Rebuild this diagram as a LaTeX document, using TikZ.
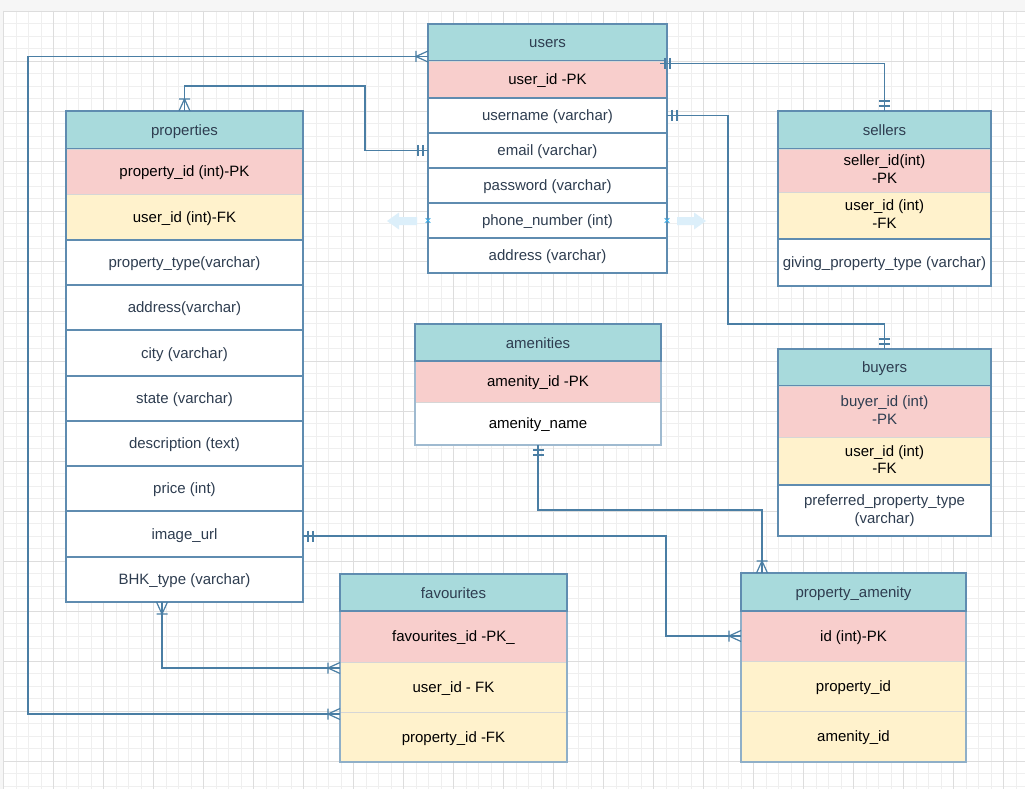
\documentclass[tikz,border=0pt]{standalone}
\usepackage{fontspec}
\setmainfont{Liberation Sans}
\usetikzlibrary{calc}

\definecolor{hdr}{HTML}{A8DADC}
\definecolor{pkc}{HTML}{F8CECC}
\definecolor{fkc}{HTML}{FFF2CC}
\definecolor{framec}{HTML}{5F8CB0}
\definecolor{sepc}{HTML}{D6D6D6}
\definecolor{linkc}{HTML}{4A7EA4}
\definecolor{ink}{HTML}{2E3D50}
\definecolor{gridmaj}{HTML}{DDDDDD}
\definecolor{gridmin}{HTML}{EFEFEF}
\definecolor{pagec}{HTML}{F6F6F6}
\definecolor{hint}{HTML}{DCEFFA}
\definecolor{hintx}{HTML}{3AABE6}

% fixed line box (13.5pt above, 2.5pt below the baseline) so labels sit alike
\newcommand{\cellstrut}{\rule[-2.5pt]{0pt}{16pt}}

\tikzset{
  cellbase/.style={anchor=north west, inner sep=0pt, outer sep=0pt, align=center,
    font=\fontsize{15}{17.5}\selectfont, text=ink,
    execute at begin node=\cellstrut, execute at end node=\cellstrut},
  hcell/.style={cellbase, fill=hdr, draw=framec, line width=1.3pt},
  pcell/.style={cellbase, fill=pkc, draw=sepc, line width=0.6pt, text=black},
  fcell/.style={cellbase, fill=fkc, draw=sepc, line width=0.6pt, text=black},
  wcell/.style={cellbase, fill=white, draw=framec, line width=1.2pt},
  tframe/.style={draw=framec, line width=1.3pt},
  conn/.style={draw=linkc, line width=1.2pt},
  mone/.pic={\draw[conn] (5,-5.5) -- (5,5.5) (10,-5.5) -- (10,5.5);},
  omany/.pic={\draw[conn] (0,-5.5) -- (12,0) -- (0,5.5) (12,-5.5) -- (12,5.5);}
}

% one table cell: name, x, y (top left), width, height, style, text
\newcommand{\tcell}[7]{\node[#6, minimum width=#4pt, minimum height=#5pt] (#1) at (#2,#3) {#7};}

\begin{document}
\begin{tikzpicture}[x=1pt, y=-1pt]
\useasboundingbox (0,0) rectangle (1025,789);

% page and grid
\fill[pagec] (0,0) rectangle (1025,789);
\fill[white] (3.3,11) rectangle (1025,789);
\foreach \i in {0,...,81} \draw[gridmin, line width=0.6pt] ({3.3+12.5*\i},11) -- ({3.3+12.5*\i},789);
\foreach \j in {0,...,62} \draw[gridmin, line width=0.6pt] (3.3,{11+12.5*\j}) -- (1025,{11+12.5*\j});
\foreach \i in {0,...,20} \draw[gridmaj, line width=0.8pt] ({3.3+50*\i},11) -- ({3.3+50*\i},789);
\foreach \j in {0,...,15} \draw[gridmaj, line width=0.8pt] (3.3,{11+50*\j}) -- (1025,{11+50*\j});

% users
\tcell{users-h}{428}{24}{239}{37}{hcell}{users}
\tcell{users-1}{428}{61}{239}{37}{pcell}{user\_id -PK}
\tcell{users-2}{428}{98}{239}{35}{wcell}{username (varchar)}
\tcell{users-3}{428}{133}{239}{35}{wcell}{email (varchar)}
\tcell{users-4}{428}{168}{239}{35}{wcell}{password (varchar)}
\tcell{users-5}{428}{203}{239}{35}{wcell}{phone\_number (int)}
\tcell{users-6}{428}{238}{239}{35}{wcell}{address (varchar)}
\draw[tframe] (users-h.north west) rectangle (users-6.south east);

% properties
\tcell{prop-h}{66}{111}{237}{38}{hcell}{properties}
\tcell{prop-1}{66}{149}{237}{45}{pcell}{property\_id (int)-PK}
\tcell{prop-2}{66}{194}{237}{46}{fcell}{user\_id (int)-FK}
\tcell{prop-3}{66}{240}{237}{45}{wcell}{property\_type(varchar)}
\tcell{prop-4}{66}{285}{237}{45}{wcell}{address(varchar)}
\tcell{prop-5}{66}{330}{237}{46}{wcell}{city (varchar)}
\tcell{prop-6}{66}{376}{237}{45}{wcell}{state (varchar)}
\tcell{prop-7}{66}{421}{237}{45}{wcell}{description (text)}
\tcell{prop-8}{66}{466}{237}{45}{wcell}{price (int)}
\tcell{prop-9}{66}{511}{237}{46}{wcell}{image\_url}
\tcell{prop-10}{66}{557}{237}{45}{wcell}{BHK\_type (varchar)}
\draw[tframe] (prop-h.north west) rectangle (prop-10.south east);

% sellers
\tcell{sell-h}{778}{111}{213}{38}{hcell}{sellers}
\tcell{sell-1}{778}{149}{213}{43}{pcell}{seller\_id(int)\\-PK}
\tcell{sell-2}{778}{192}{213}{47}{fcell}{user\_id (int)\\-FK}
\tcell{sell-3}{778}{239}{213}{47}{wcell}{giving\_property\_type (varchar)}
\draw[tframe] (sell-h.north west) rectangle (sell-3.south east);

% buyers
\tcell{buy-h}{778}{349}{213}{37}{hcell}{buyers}
\tcell{buy-1}{778}{386}{213}{51}{pcell, text=ink}{buyer\_id (int)\\-PK}
\tcell{buy-2}{778}{437}{213}{48}{fcell}{user\_id (int)\\-FK}
\tcell{buy-3}{778}{485}{213}{51}{wcell}{preferred\_property\_type\\(varchar)}
\draw[tframe] (buy-h.north west) rectangle (buy-3.south east);

% amenities
\tcell{am-h}{415}{324}{246}{37}{hcell}{amenities}
\tcell{am-1}{415}{361}{246}{41}{pcell}{amenity\_id -PK}
\tcell{am-2}{415}{402}{246}{43}{wcell, draw=sepc, line width=0.6pt, text=black}{amenity\_name}
\draw[tframe, draw=framec!60] (am-1.north west) -- (am-2.south west) -- (am-2.south east) -- (am-1.north east);
\draw[tframe] (am-h.north west) rectangle (am-h.south east);

% favourites
\tcell{fav-h}{340}{574}{227}{37}{hcell}{favourites}
\tcell{fav-1}{340}{611}{227}{51}{pcell}{favourites\_id -PK\_}
\tcell{fav-2}{340}{662}{227}{50}{fcell}{user\_id - FK}
\tcell{fav-3}{340}{712}{227}{50}{fcell}{property\_id -FK}
\draw[tframe, draw=framec!70] (fav-1.north west) -- (fav-3.south west) -- (fav-3.south east) -- (fav-1.north east);
\draw[tframe] (fav-h.north west) rectangle (fav-h.south east);

% property_amenity
\tcell{pa-h}{741}{573}{225}{38}{hcell}{property\_amenity}
\tcell{pa-1}{741}{611}{225}{50}{pcell}{id (int)-PK}
\tcell{pa-2}{741}{661}{225}{50}{fcell}{property\_id}
\tcell{pa-3}{741}{711}{225}{51}{fcell}{amenity\_id}
\draw[tframe, draw=framec!70] (pa-1.north west) -- (pa-3.south west) -- (pa-3.south east) -- (pa-1.north east);
\draw[tframe] (pa-h.north west) rectangle (pa-h.south east);

% connector end points
\coordinate (c1a) at ($(users-h.south west)+(0,-4.5)$);
\coordinate (c1b) at ($(fav-3.north west)+(0,2)$);
\coordinate (c3a) at ($(users-1.north east)+(-7,2.3)$);
\coordinate (c5a) at ($(prop-9.east)+(0,2)$);
\coordinate (c6b) at ($(pa-h.north west)+(21,0)$);
\coordinate (c7a) at ($(prop-10.south west)+(96,0)$);
\coordinate (c7b) at ($(fav-2.north west)+(0,6)$);

% relationships
\draw[conn] (c1a) -| (28,714) -- (c1b);
\pic[rotate=180] at (c1a) {omany};
\pic[rotate=180] at (c1b) {omany};

\draw[conn] (users-3.west) -| (365,86) -| (prop-h.north);
\pic[rotate=180] at (users-3.west) {mone};
\pic[rotate=90] at (prop-h.north) {omany};

\draw[conn] (c3a) -| (sell-h.north);
\pic at (c3a) {mone};
\pic[rotate=90] at (sell-h.north) {mone};

\draw[conn] (users-2.east) -| (728,324) -| (buy-h.north);
\pic at (users-2.east) {mone};
\pic[rotate=90] at (buy-h.north) {mone};

\draw[conn] (c5a) -| (666,636) |- (pa-1.west);
\pic at (c5a) {mone};
\pic[rotate=180] at (pa-1.west) {omany};

\draw[conn] (am-2.south) |- (700,510) -| (c6b);
\pic[rotate=-90] at (am-2.south) {mone};
\pic[rotate=90] at (c6b) {omany};

\draw[conn] (c7a) |- (c7b);
\pic[rotate=-90] at (c7a) {omany};
\pic[rotate=180] at (c7b) {omany};

% hover hints beside phone_number
\fill[hint] (387,221) -- (399,212.5) -- (399,217) -- (417,217) -- (417,225) -- (399,225) -- (399,229.5) -- cycle;
\fill[hint] (706,221) -- (694,212.5) -- (694,217) -- (677,217) -- (677,225) -- (694,225) -- (694,229.5) -- cycle;
\draw[hintx, line width=0.9pt] ($(users-5.west)+(-2.3,-2.3)$) -- ++(4.6,4.6) ($(users-5.west)+(-2.3,2.3)$) -- ++(4.6,-4.6);
\draw[hintx, line width=0.9pt] ($(users-5.east)+(-2.3,-2.3)$) -- ++(4.6,4.6) ($(users-5.east)+(-2.3,2.3)$) -- ++(4.6,-4.6);

\end{tikzpicture}
\end{document}
